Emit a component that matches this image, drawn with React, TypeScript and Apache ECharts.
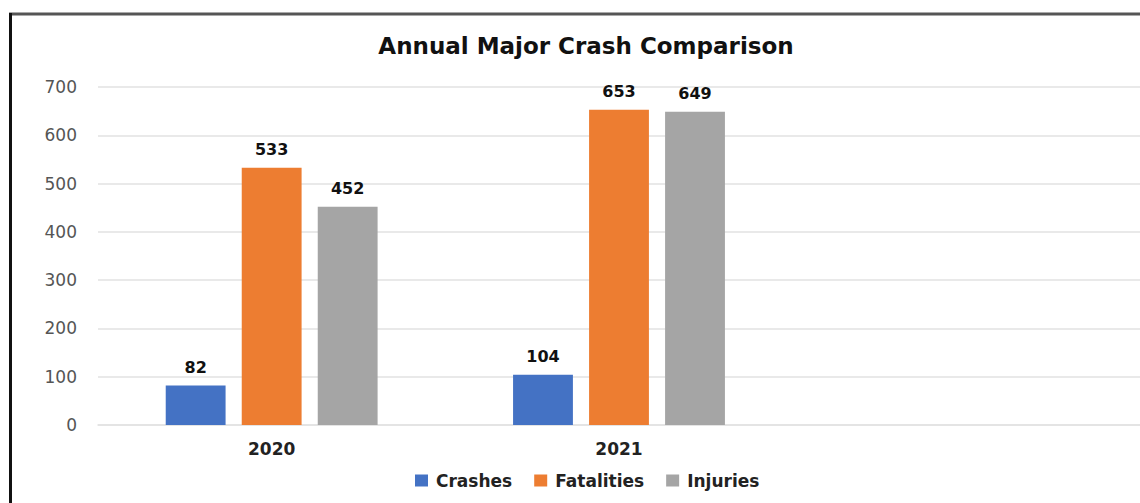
import React, { useEffect, useRef } from "react";
import * as echarts from "echarts";

const categories = ["2020", "2021", ""];
const crashes = [82, 104, null];
const fatalities = [533, 653, null];
const injuries = [452, 649, null];
const yTicks = { min: 0, max: 700, interval: 100 };

export default function App() {
  const ref = useRef<HTMLDivElement>(null);
  useEffect(() => {
    if (!ref.current) return;
    const chart = echarts.init(ref.current, null, { renderer: "svg" });
    const font = "'DejaVu Sans', sans-serif";
    const label = {
      show: true,
      position: "top",
      distance: 10,
      fontFamily: font,
      fontWeight: "bold",
      fontSize: 16,
      color: "#111",
    };
    const mk = (name: string, data: (number | null)[], color: string) => ({
      name,
      type: "bar",
      data,
      barGap: "27%",
      barCategoryGap: "39%",
      itemStyle: { color },
      label,
    });
    chart.setOption({
      animation: false,
      backgroundColor: "#fff",
      title: {
        text: "Annual Major Crash Comparison",
        left: 581,
        textAlign: "center",
        top: 29,
        textStyle: { fontFamily: font, fontWeight: "bold", fontSize: 23, color: "#111" },
      },
      legend: {
        bottom: 9,
        left: 410,
        itemWidth: 13,
        itemHeight: 12,
        itemGap: 22,
        icon: "rect",
        textStyle: { fontFamily: font, fontWeight: "bold", fontSize: 17, color: "#222", padding: [0, 0, 0, 3] },
        data: ["Crashes", "Fatalities", "Injuries"],
      },
      grid: { left: 98, right: 0, top: 87, bottom: 78, containLabel: false },
      xAxis: {
        type: "category",
        data: categories,
        axisLine: { lineStyle: { color: "#e2e2e2", width: 1.5 } },
        axisTick: { show: false },
        axisLabel: { fontFamily: font, fontWeight: "bold", fontSize: 17, color: "#222", margin: 15 },
      },
      yAxis: {
        type: "value",
        min: yTicks.min,
        max: yTicks.max,
        interval: yTicks.interval,
        axisLine: { show: false },
        axisTick: { show: false },
        splitLine: { lineStyle: { color: "#e2e2e2", width: 1.5 } },
        axisLabel: { fontFamily: font, fontSize: 17, color: "#555", margin: 21 },
      },
      graphic: [
        { type: "line", shape: { x1: 9, y1: 14, x2: 1140, y2: 14 }, style: { stroke: "#555", lineWidth: 3 } },
        { type: "line", shape: { x1: 10.5, y1: 13, x2: 10.5, y2: 503 }, style: { stroke: "#111", lineWidth: 3 } },
      ],
      series: [
        mk("Crashes", crashes, "#4472c4"),
        mk("Fatalities", fatalities, "#ed7d31"),
        mk("Injuries", injuries, "#a5a5a5"),
      ],
    });
    return () => chart.dispose();
  }, []);
  return (
    <div
      ref={ref}
      style={{ position: "fixed", left: 0, top: 0, width: 1140, height: 503 }}
    />
  );
}
